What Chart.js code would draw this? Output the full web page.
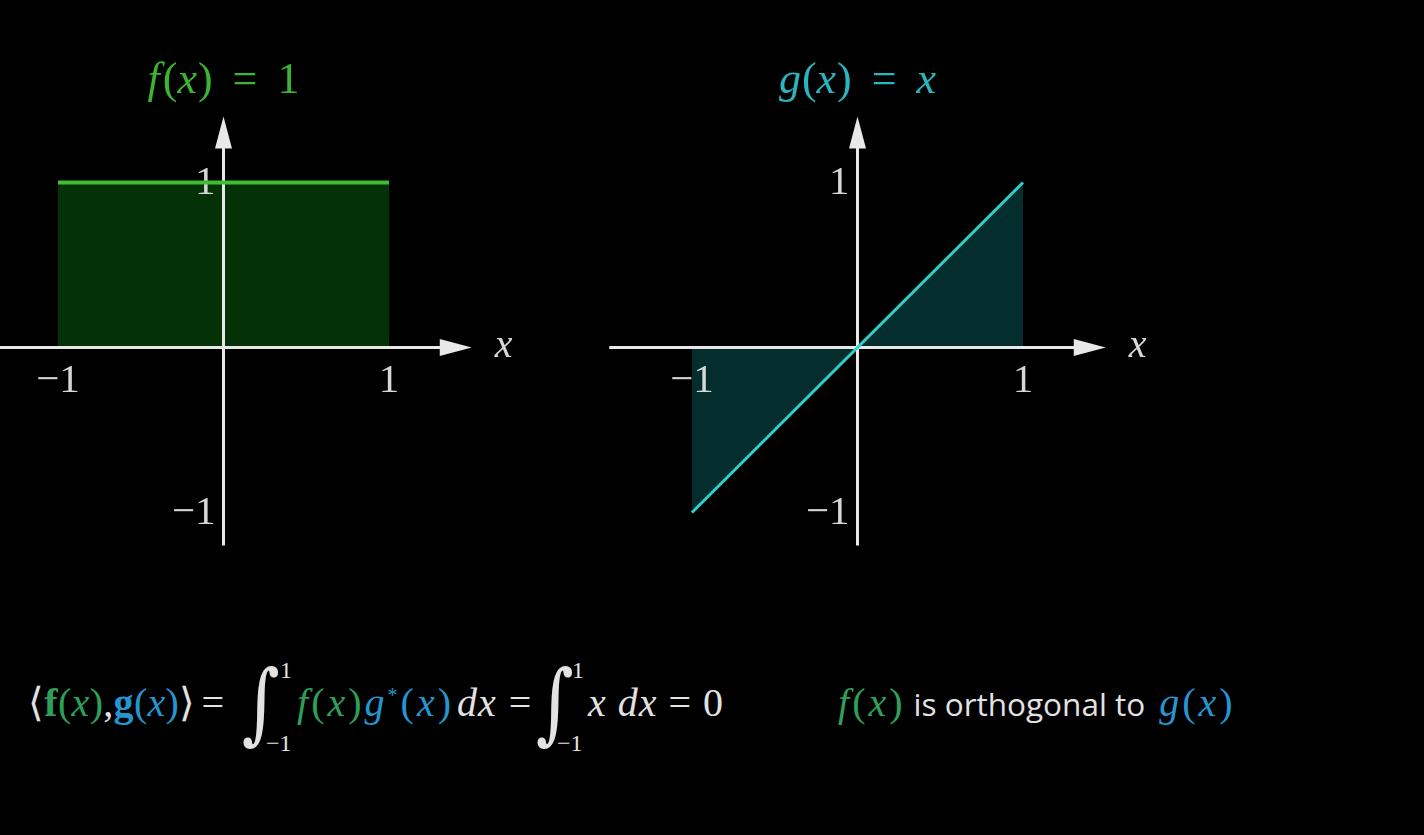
<!DOCTYPE html>
<html>
<head>
<meta charset="utf-8">
<script src="https://cdn.jsdelivr.net/npm/chart.js"></script>
<style>
  html, body { margin: 0; background: #000; width: 1424px; height: 835px; overflow: hidden; }
  canvas { position: absolute; top: 0; }
  #cf { left: 0; }
  #cg { left: 600px; }
  .m { position: absolute; white-space: nowrap; color: #e2e2e2; font-family: "Liberation Serif", serif; font-size: 40px; line-height: 1; letter-spacing: 1px; }
  .i { font-style: italic; }
  .b { font-weight: bold; }
  .gr { color: #2fa05a; }
  .bl { color: #2596cf; }
  .w { letter-spacing: 3px; }
  .int { position: absolute; color: #e2e2e2; font-family: "DejaVu Serif", serif; font-size: 56px; line-height: 1; transform: scale(1.3, 1.58); transform-origin: 0 0; }
  .lim { position: absolute; color: #e2e2e2; font-family: "Liberation Serif", serif; font-size: 24px; line-height: 1; }
  .sans { font-family: "Open Sans", sans-serif; font-size: 31.5px; letter-spacing: 0; }
</style>
</head>
<body>
<canvas id="cf" width="560" height="620"></canvas>
<canvas id="cg" width="600" height="620"></canvas>

<div class="m" style="left:28px; top:683px; letter-spacing:0.3px;">⟨<span class="b gr">f</span><span class="gr">(<span class="i">x</span>)</span>,<span class="b bl">g</span><span class="bl">(<span class="i">x</span>)</span>⟩<span style="margin-left:6px">=</span></div>
<div class="int" style="left:242px; top:659px;">∫</div>
<div class="lim" style="left:280px; top:658px;">1</div>
<div class="lim" style="left:266px; top:731px;">−1</div>
<div class="m" style="left:297px; top:683px;"><span class="gr w"><span class="i">f</span>(<span class="i">x</span>)</span><span class="bl w"><span class="i">g</span><sup style="font-size:20px">*</sup>(<span class="i">x</span>)</span><span class="i" style="margin-left:3px">dx</span><span style="margin-left:12px">=</span></div>
<div class="int" style="left:536px; top:659px;">∫</div>
<div class="lim" style="left:572px; top:658px;">1</div>
<div class="lim" style="left:557px; top:731px;">−1</div>
<div class="m" style="left:588px; top:683px;"><span class="i">x</span> <span class="i">dx</span> = 0</div>
<div class="m" style="left:838px; top:683px;"><span class="gr w"><span class="i">f</span>(<span class="i">x</span>)</span><span class="sans" style="margin-left:8px">is orthogonal to</span><span class="bl w" style="margin-left:14px"><span class="i">g</span>(<span class="i">x</span>)</span></div>

<script>
// data
const fX = [-1, 1];
const fY = [1, 1];
const gX = [-1, 1];
const gY = [-1, 1];
const xTicks = [-1, 1];
const yTicks = [1, -1];
const axisXRange = [-1.5, 1.5];
const axisYRange = [-1.2, 1.4];

const AXIS = 'rgb(232,232,232)';
const LABEL = 'rgb(215,215,215)';

function serif(size, italic) {
    return (italic ? 'italic ' : '') + size + 'px "Liberation Serif", serif';
}

// draw a row of text pieces, some italic, centred on x
function drawRuns(ctx, runs, x, y, size, color) {
    let total = 0;
    runs.forEach(r => {
        ctx.font = serif(size, r.it);
        r.w = ctx.measureText(r.t).width + (r.gap || 0);
        total += r.w;
    });
    let cx = x - total / 2;
    ctx.fillStyle = color;
    ctx.textAlign = 'left';
    ctx.textBaseline = 'alphabetic';
    runs.forEach(r => {
        ctx.font = serif(size, r.it);
        ctx.fillText(r.t, cx, y);
        cx += r.w;
    });
}

const axesPlugin = {
    id: 'axes',
    beforeDatasetsDraw(chart, args, opts) {
        const ctx = chart.ctx;
        const sx = chart.scales.x, sy = chart.scales.y;
        const x0 = sx.getPixelForValue(0), y0 = sy.getPixelForValue(0);
        const xa = sx.getPixelForValue(axisXRange[0]), xb = sx.getPixelForValue(axisXRange[1]);
        const ya = sy.getPixelForValue(axisYRange[0]), yb = sy.getPixelForValue(axisYRange[1]);
        ctx.save();
        ctx.strokeStyle = AXIS;
        ctx.fillStyle = AXIS;
        ctx.lineWidth = 3;
        // x axis
        ctx.beginPath();
        ctx.moveTo(xa, y0);
        ctx.lineTo(xb - 20, y0);
        ctx.stroke();
        ctx.beginPath();
        ctx.moveTo(xb, y0);
        ctx.lineTo(xb - 32, y0 - 8.5);
        ctx.lineTo(xb - 32, y0 + 8.5);
        ctx.closePath();
        ctx.fill();
        // y axis
        ctx.beginPath();
        ctx.moveTo(x0, ya);
        ctx.lineTo(x0, yb + 20);
        ctx.stroke();
        ctx.beginPath();
        ctx.moveTo(x0, yb);
        ctx.lineTo(x0 - 8.5, yb + 32);
        ctx.lineTo(x0 + 8.5, yb + 32);
        ctx.closePath();
        ctx.fill();

        // tick labels
        ctx.fillStyle = LABEL;
        ctx.font = serif(41, false);
        ctx.textBaseline = 'alphabetic';
        ctx.textAlign = 'center';
        xTicks.forEach(v => {
            ctx.fillText(v < 0 ? '\u2212' + Math.abs(v) : String(v), sx.getPixelForValue(v), y0 + 44);
        });
        ctx.textAlign = 'right';
        yTicks.forEach(v => {
            ctx.fillText(v < 0 ? '\u2212' + Math.abs(v) : String(v), x0 - 8, sy.getPixelForValue(v) + 11);
        });

        // axis name
        ctx.font = serif(40, true);
        ctx.textAlign = 'left';
        ctx.fillText('x', xb + 23, y0 + 9);

        // title
        drawRuns(ctx, opts.title, x0, 93, 44, opts.titleColor);
        ctx.restore();
    }
};

function makeChart(id, xs, ys, xRange, line, fillColor, lineWidth, title, titleColor) {
    return new Chart(document.getElementById(id), {
        type: 'line',
        data: {
            datasets: [{
                data: xs.map((x, i) => ({ x: x, y: ys[i] })),
                borderColor: line,
                backgroundColor: fillColor,
                borderWidth: lineWidth,
                fill: 'origin',
                pointRadius: 0,
                tension: 0
            }]
        },
        options: {
            responsive: false,
            animation: false,
            events: [],
            layout: { padding: 0 },
            scales: {
                x: { type: 'linear', min: xRange[0], max: xRange[1], display: false },
                y: { type: 'linear', min: -272.5 / 165, max: 347.5 / 165, display: false }
            },
            plugins: {
                legend: { display: false },
                tooltip: { enabled: false },
                filler: { drawTime: 'beforeDatasetsDraw' },
                axes: { title: title, titleColor: titleColor }
            }
        },
        plugins: [axesPlugin]
    });
}

makeChart('cf', fX, fY, [-223.5 / 165.5, 336.5 / 165.5],
    'rgb(62,190,52)', 'rgb(4,50,6)', 4,
    [{ t: 'f', it: true, gap: 3 }, { t: '(' }, { t: 'x', it: true, gap: 1 }, { t: ')', gap: 20 }, { t: '=', gap: 20 }, { t: '1' }],
    'rgb(58,182,50)');

makeChart('cg', gX, gY, [-257.5 / 165.5, 342.5 / 165.5],
    'rgb(45,208,204)', 'rgb(4,46,46)', 3,
    [{ t: 'g', it: true, gap: 1 }, { t: '(' }, { t: 'x', it: true, gap: 1 }, { t: ')', gap: 20 }, { t: '=', gap: 20 }, { t: 'x', it: true }],
    'rgb(42,182,190)');
</script>
</body>
</html>
